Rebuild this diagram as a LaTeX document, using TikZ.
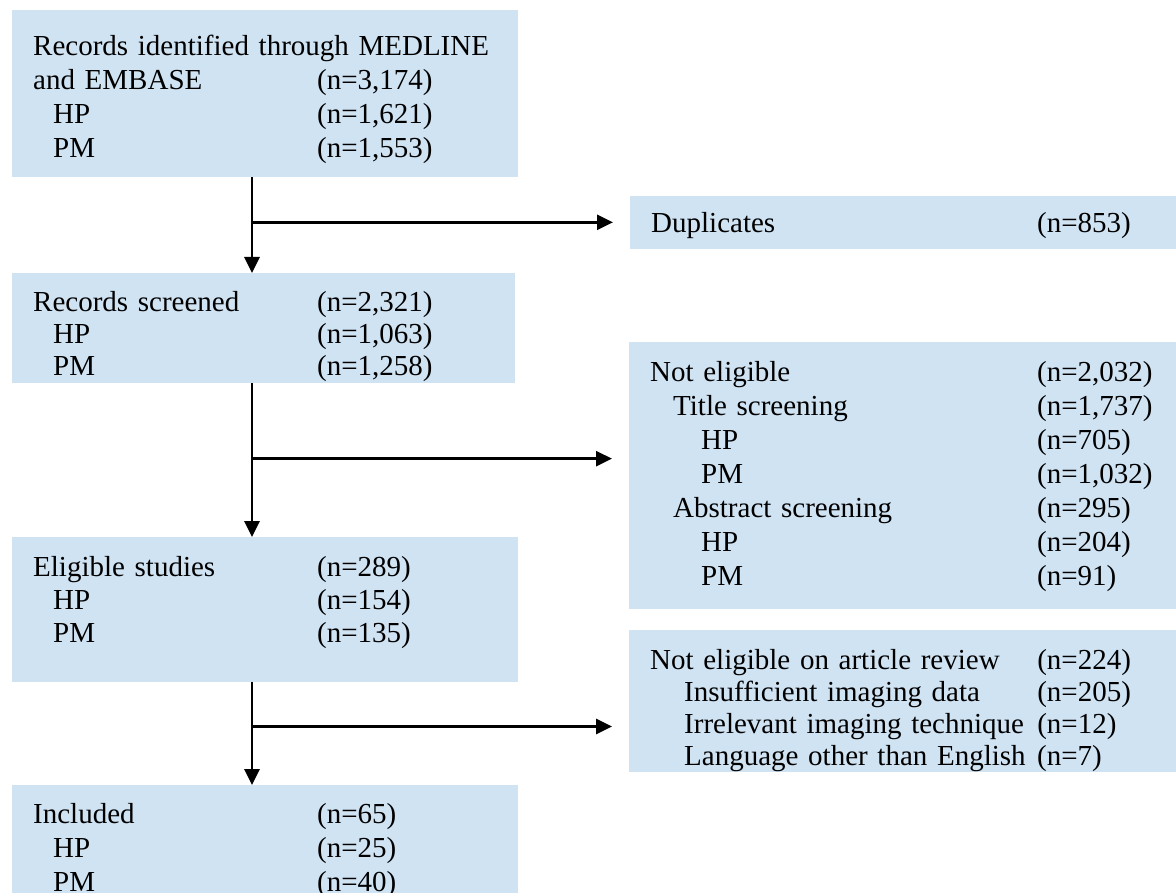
\documentclass[tikz,border=0pt]{standalone}
\usepackage{fontspec}
\setmainfont{Liberation Serif}
\usetikzlibrary{arrows.meta,calc}
\definecolor{boxblue}{RGB}{208,227,243}

\begin{document}
\begin{tikzpicture}[x=1pt, y=-1pt,
    flowbox/.style={fill=boxblue, anchor=north west, inner xsep=21pt, inner ysep=0pt, align=left, font=\fontsize{29}{34}\selectfont},
    leftbox/.style={flowbox, text width=464pt},
    rightbox/.style={flowbox, text width=505pt},
    tight/.style={font=\fontsize{29}{32}\selectfont},
    arr/.style={-{Triangle[length=16pt,width=15pt]}, line width=2.8pt}
]
\useasboundingbox (0,0) rectangle (1176,893);

% main column
\node[leftbox, text height=45.6pt, text depth=121.4pt] (rec) at (12,10) {\begin{tabular}[t]{@{}p{284pt}@{}l@{}}
\multicolumn{2}{@{}l@{}}{Records identified through MEDLINE}\\
and EMBASE & (n=3,174)\\
\hspace*{20pt}HP & (n=1,621)\\
\hspace*{20pt}PM & (n=1,553)
\end{tabular}};
\node[leftbox, tight, text width=461pt, text height=38.6pt, text depth=71.4pt] (scr) at (12,273) {\begin{tabular}[t]{@{}p{284pt}@{}l@{}}
Records screened & (n=2,321)\\
\hspace*{20pt}HP & (n=1,063)\\
\hspace*{20pt}PM & (n=1,258)
\end{tabular}};
\node[leftbox, font=\fontsize{29}{33}\selectfont, text height=39.6pt, text depth=105.4pt] (eli) at (12,537) {\begin{tabular}[t]{@{}p{284pt}@{}l@{}}
Eligible studies & (n=289)\\
\hspace*{20pt}HP & (n=154)\\
\hspace*{20pt}PM & (n=135)
\end{tabular}};
\node[leftbox, text height=38pt, text depth=77pt] (inc) at (12,785) {\begin{tabular}[t]{@{}p{284pt}@{}l@{}}
Included & (n=65)\\
\hspace*{20pt}HP & (n=25)\\
\hspace*{20pt}PM & (n=40)
\end{tabular}};

% exclusions
\node[rightbox, text width=504pt, text height=36pt, text depth=17pt] (dup) at (630,196) {\begin{tabular}[t]{@{}p{386pt}@{}l@{}}
Duplicates & (n=853)
\end{tabular}};
\node[rightbox, text height=39.6pt, text depth=227.4pt] (nel) at (629,342) {\begin{tabular}[t]{@{}p{387pt}@{}l@{}}
Not eligible & (n=2,032)\\
\hspace*{23pt}Title screening & (n=1,737)\\
\hspace*{51pt}HP & (n=705)\\
\hspace*{51pt}PM & (n=1,032)\\
\hspace*{23pt}Abstract screening & (n=295)\\
\hspace*{51pt}HP & (n=204)\\
\hspace*{51pt}PM & (n=91)
\end{tabular}};
\node[rightbox, tight, text height=39.6pt, text depth=102.4pt] (art) at (629,630) {\begin{tabular}[t]{@{}p{387pt}@{}l@{}}
Not eligible on article review & (n=224)\\
\hspace*{34pt}Insufficient imaging data & (n=205)\\
\hspace*{34pt}Irrelevant imaging technique & (n=12)\\
\hspace*{34pt}Language other than English & (n=7)
\end{tabular}};

% connectors
\coordinate (trunk) at (252,0);
\draw[arr] (trunk |- rec.south) -- coordinate[pos=0.47] (b1) (trunk |- scr.north);
\draw[arr] (trunk |- scr.south) -- coordinate[pos=0.49] (b2) (trunk |- eli.north);
\draw[arr] (trunk |- eli.south) -- coordinate[pos=0.43] (b3) (trunk |- inc.north);
\draw[arr, shorten >=17pt] (b1) -- (b1 -| dup.west);
\draw[arr, shorten >=17pt] (b2) -- (b2 -| nel.west);
\draw[arr, shorten >=17pt] (b3) -- (b3 -| art.west);
\end{tikzpicture}
\end{document}
